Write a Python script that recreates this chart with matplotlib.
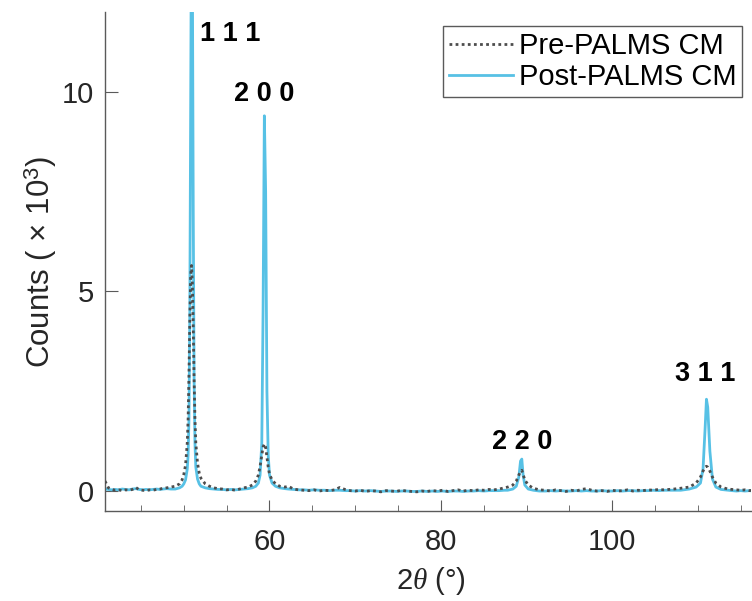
import numpy as np
import matplotlib
matplotlib.use("Agg")
import matplotlib.pyplot as plt
from matplotlib.ticker import MultipleLocator

# 2theta grid (deg) and counts (x 10^3)
two_theta = [
    40.8, 41.2, 41.6, 42.0, 42.4, 42.8, 43.2, 43.6, 44.0, 44.4, 44.8, 45.2, 45.6, 46.0,
    46.4, 46.8, 47.2, 47.6, 48.0, 48.5,
    49.0, 49.5, 49.8, 50.0, 50.2, 50.4, 50.5, 50.6, 50.7, 50.8, 50.9, 51.0, 51.1, 51.2,
    51.3, 51.4, 51.6, 51.8, 52.0, 52.5, 53.0,
    53.5, 54.0, 54.5, 55.0, 55.5, 56.0, 56.5,
    57.0, 57.5, 58.0, 58.4, 58.7, 58.9, 59.1, 59.25, 59.4, 59.55, 59.7, 59.85, 60.0,
    60.3, 60.7, 61.2,
    61.8, 62.2, 62.8, 63.4, 64.0, 64.6, 65.2, 65.8, 66.4, 67.0, 67.6, 68.2, 68.8, 69.4,
    70.0, 70.6, 71.2, 71.8, 72.4, 73.0, 73.6, 74.2, 74.8, 75.4, 76.0, 76.6, 77.2, 77.8,
    78.4, 79.0, 79.6, 80.2, 80.8, 81.4, 82.0, 82.6, 83.2, 83.8, 84.4, 85.0, 85.6, 86.2,
    86.8, 87.4, 87.8, 88.4, 88.8, 89.1, 89.3, 89.45, 89.6, 89.8, 90.2, 90.8, 91.5,
    92.2, 92.8, 93.4, 94.0, 94.6, 95.2, 95.8, 96.4, 97.0, 97.6, 98.2, 98.8, 99.4, 100.0,
    100.6, 101.2, 101.8, 102.4, 103.0, 103.6, 104.2, 104.8, 105.4, 106.0, 106.6, 107.2,
    108.0, 109.0, 109.8, 110.3, 110.6, 110.85, 111.0, 111.15, 111.4, 111.7, 112.1,
    112.7, 113.5,
    114.0, 114.5, 115.0, 115.5, 116.0, 116.4,
]

pre_counts = [
    0.25, 0.08, 0.04, 0.02, 0.03, 0.01, 0.03, 0.02, 0.04, 0.09, 0.03, 0.02, 0.01, 0.03,
    0.02, 0.04, 0.05, 0.07, 0.08, 0.10,
    0.12, 0.18, 0.28, 0.42, 0.65, 1.20, 1.80, 2.90, 4.30, 5.40, 5.65, 5.20, 4.10, 2.80,
    1.80, 1.20, 0.70, 0.45, 0.32, 0.18, 0.12,
    0.08, 0.06, 0.05, 0.03, 0.04, 0.02, 0.05,
    0.08, 0.10, 0.15, 0.25, 0.40, 0.62, 0.90, 1.10, 1.18, 1.10, 0.85, 0.60, 0.42,
    0.28, 0.18, 0.12,
    0.10, 0.12, 0.05, 0.03, 0.02, 0.01, 0.03, 0.00, 0.02, 0.01, 0.03, 0.09, 0.04, 0.01,
    0.00, 0.02, -0.01, 0.01, 0.00, -0.02, 0.01, 0.00, -0.01, 0.02, 0.00, -0.01, -0.02, 0.00,
    -0.01, 0.01, 0.00, 0.02, -0.01, 0.01, 0.03, 0.00, 0.02, 0.01, 0.03, 0.02, 0.04, 0.03,
    0.05, 0.08, 0.10, 0.15, 0.25, 0.40, 0.50, 0.52, 0.42, 0.28, 0.15, 0.07, 0.03,
    0.02, 0.00, 0.03, 0.01, -0.01, 0.02, 0.00, 0.04, 0.06, 0.02, 0.00, 0.01, -0.01, 0.02,
    0.00, 0.01, 0.03, 0.00, 0.02, 0.01, 0.03, 0.02, 0.04, 0.03, 0.04, 0.05,
    0.07, 0.10, 0.20, 0.35, 0.50, 0.60, 0.62, 0.60, 0.50, 0.35, 0.20,
    0.10, 0.05,
    0.04, 0.03, 0.02, 0.03, 0.01, 0.02,
]

post_counts = [
    0.05, 0.04, 0.03, 0.04, 0.03, 0.05, 0.04, 0.03, 0.05, 0.06, 0.04, 0.03, 0.04, 0.03,
    0.04, 0.05, 0.04, 0.05, 0.06, 0.05,
    0.05, 0.08, 0.12, 0.18, 0.28, 0.55, 0.90, 1.80, 4.50, 10.0, 14.5, 13.0, 7.00, 2.80,
    1.20, 0.60, 0.30, 0.18, 0.12, 0.08, 0.06,
    0.05, 0.04, 0.04, 0.03, 0.04, 0.03, 0.04,
    0.05, 0.06, 0.08, 0.12, 0.20, 0.40, 1.20, 4.50, 9.40, 7.50, 2.50, 0.90, 0.40,
    0.20, 0.12, 0.08,
    0.06, 0.05, 0.04, 0.03, 0.03, 0.02, 0.03, 0.02, 0.02, 0.01, 0.02, 0.02, 0.01, 0.01,
    0.00, 0.01, 0.00, 0.01, 0.00, -0.01, 0.00, 0.00, -0.01, 0.00, 0.00, -0.01, -0.01, 0.00,
    -0.01, 0.00, -0.01, 0.00, -0.01, 0.00, 0.00, -0.01, 0.00, 0.00, 0.01, 0.00, 0.01, 0.01,
    0.01, 0.02, 0.02, 0.05, 0.12, 0.35, 0.75, 0.80, 0.40, 0.15, 0.05, 0.02, 0.00,
    0.00, 0.01, 0.00, 0.01, 0.00, 0.00, 0.01, 0.00, 0.01, 0.00, 0.00, 0.01, 0.00, 0.00,
    0.01, 0.00, 0.01, 0.01, 0.00, 0.01, 0.01, 0.02, 0.01, 0.02, 0.02, 0.02,
    0.02, 0.05, 0.10, 0.20, 0.55, 1.60, 2.30, 2.10, 1.00, 0.30, 0.10,
    0.04, 0.02,
    0.01, 0.00, 0.01, 0.00, 0.01, 0.00,
]

peak_labels = ["1 1 1", "2 0 0", "2 2 0", "3 1 1"]
peak_label_x = [55.45, 59.4, 89.5, 110.85]
peak_label_y = [11.45, 9.95, 1.22, 2.93]

plt.rcParams["font.family"] = "Liberation Sans"
plt.rcParams["mathtext.fontset"] = "custom"
plt.rcParams["mathtext.rm"] = "Liberation Sans"
plt.rcParams["mathtext.it"] = "Liberation Serif:italic"

fs = 21
fs_peak = 19.5
blue = "#57C1E5"
grey = "#4D4D4D"
axcol = "#5A5A5A"
txtcol = "#262626"

fig = plt.figure(figsize=(7.52, 6.01), dpi=100)
ax = fig.add_axes([105 / 752, 1 - 511 / 601, (751 - 105) / 752, (511 - 12) / 601])

ax.plot(two_theta, post_counts, color=blue, linewidth=2.0, label="Post-PALMS CM", zorder=2)
ax.plot(two_theta, pre_counts, color=grey, linewidth=2.0, linestyle=(0, (1, 1.2)),
        label="Pre-PALMS CM", zorder=3)

for lab, lx, ly in zip(peak_labels, peak_label_x, peak_label_y):
    ax.text(lx, ly, lab, fontsize=fs_peak, fontweight="bold", ha="center", va="center",
            color="k", zorder=4)

ax.set_xlim(40.8, 116.2)
ax.set_ylim(-0.5, 12)
ax.xaxis.set_major_locator(MultipleLocator(20))
ax.xaxis.set_minor_locator(MultipleLocator(5))
ax.yaxis.set_major_locator(MultipleLocator(5))

for side in ["top", "right"]:
    ax.spines[side].set_visible(False)
for side in ["left", "bottom"]:
    ax.spines[side].set_color(axcol)
    ax.spines[side].set_linewidth(1.0)

ax.tick_params(axis="both", which="both", direction="in", colors=axcol, labelcolor=txtcol,
               labelsize=fs)
ax.tick_params(axis="x", which="major", length=8, pad=12)
ax.tick_params(axis="x", which="minor", length=4)
ax.tick_params(axis="y", which="major", length=9, pad=8)

ax.set_xlabel("$2\\theta$ (°)", fontsize=fs, color=txtcol, va="center")
ax.xaxis.set_label_coords(0.505, -0.14)
ax.set_ylabel("Counts ( × 10$^{3}$)", fontsize=22.5, color=txtcol, va="center")
ax.yaxis.set_label_coords(-0.10, 0.5)

handles, labels = ax.get_legend_handles_labels()
leg = ax.legend(handles[::-1], labels[::-1], loc="upper right",
                bbox_to_anchor=((742 - 105) / 646, (511 - 26) / 499), borderaxespad=0,
                fontsize=fs, frameon=True, fancybox=False, framealpha=1,
                handlelength=2.2, handletextpad=0.2, labelspacing=0.1, borderpad=0.2)
leg.get_frame().set_edgecolor(axcol)
leg.get_frame().set_linewidth(1.0)

fig.savefig("out.png", dpi=100)
